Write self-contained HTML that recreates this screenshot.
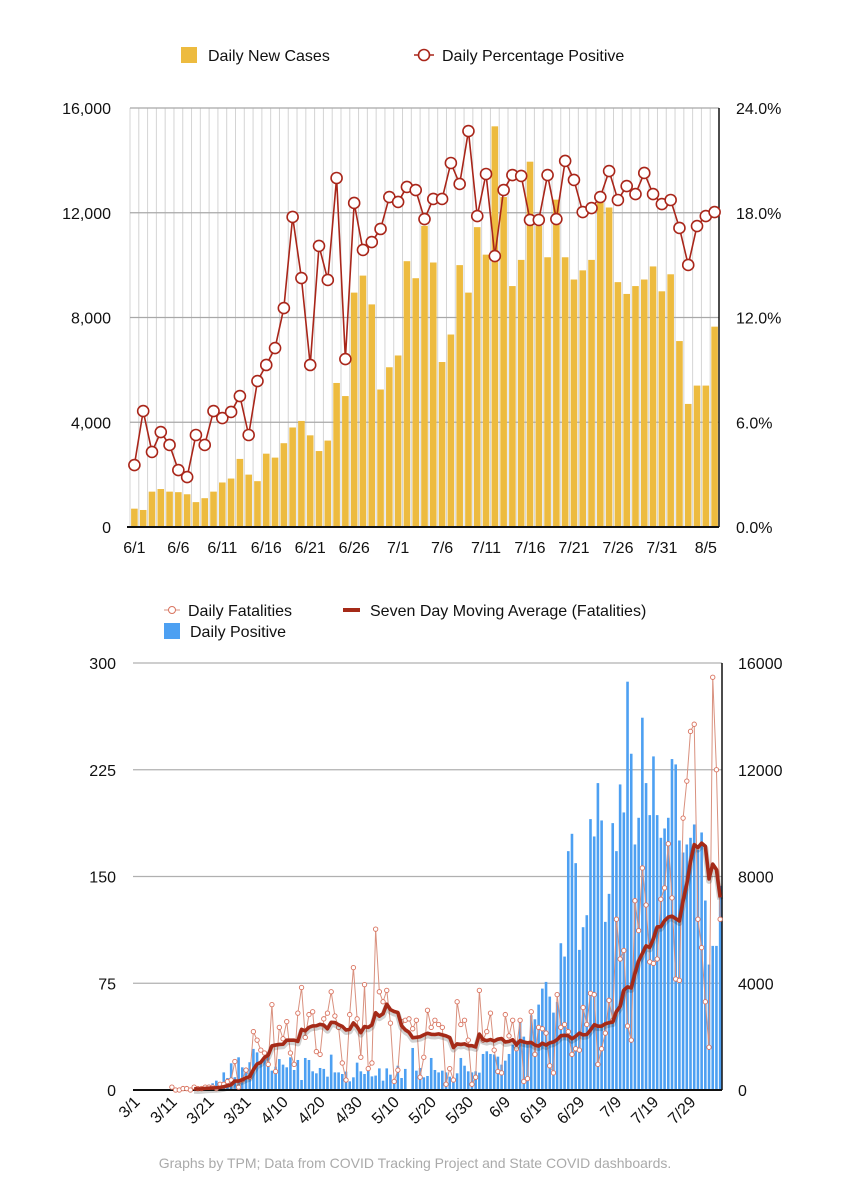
<!DOCTYPE html>
<html><head><meta charset="utf-8">
<style>
body{margin:0;background:#fff;width:849px;height:1200px;overflow:hidden;font-family:"Liberation Sans",Arial,sans-serif;}
svg{position:absolute;left:0;top:0}
text{font-family:"Liberation Sans",Arial,sans-serif;}
</style></head>
<body>
<svg id="c" width="849" height="1200"></svg>
<script>
// ---- Top chart data (6/1 .. 8/6) ----
const topDates = ["6/1","6/6","6/11","6/16","6/21","6/26","7/1","7/6","7/11","7/16","7/21","7/26","7/31","8/5"];
const newCases = [700,650,1350,1450,1350,1330,1250,950,1100,1350,1700,1850,2600,2000,1750,2800,2650,3200,3800,4050,3500,2900,3300,5500,5000,8950,9600,8500,5250,6100,6550,10150,9500,11500,10100,6300,7350,10000,8950,11450,10400,15300,12600,9200,10200,13950,11500,10300,12500,10300,9450,9800,10200,12400,12200,9350,8900,9200,9450,9950,9000,9650,7100,4700,5400,5400,7650];
const pctPositive = [3.55,6.64,4.30,5.44,4.70,3.26,2.86,5.27,4.70,6.64,6.24,6.59,7.50,5.27,8.36,9.28,10.25,12.54,17.76,14.26,9.28,16.10,14.15,19.99,9.62,18.56,15.87,16.32,17.07,18.90,18.62,19.48,19.30,17.64,18.79,18.79,20.85,19.65,22.68,17.81,20.22,15.52,19.30,20.16,20.11,17.59,17.59,20.16,17.64,20.97,19.88,18.04,18.27,18.90,20.39,18.73,19.53,19.07,20.28,19.07,18.50,18.73,17.13,15.01,17.24,17.81,18.04];
const topLeftTicks = [0,4000,8000,12000,16000];
const topLeftLabels = ["0","4,000","8,000","12,000","16,000"];
const topRightLabels = ["0.0%","6.0%","12.0%","18.0%","24.0%"];

// ---- Bottom chart data (3/1 .. 8/6) ----
const botDates = ["3/1","3/11","3/21","3/31","4/10","4/20","4/30","5/10","5/20","5/30","6/9","6/19","6/29","7/9","7/19","7/29"];
const dailyPositiveEarly = [0,0,0,0,0,0,0,0,0,0,0,0,0,0,0,0,0,
 0,100,150,200,250,350,300,
 660,450,1000,480,1225,850,700,1040,1540,1410,1040,1160,1410,725,875,1160,950,850,1225,750,1125,375,1200,1125,700,625,825,790,500,1325,660,660,600,690,325,475,1025,700,600,790,510,540,810,350,810,575,350,910,450,790,0,1575,725,825,475,525,1200,750,
 660,725,660,500,350,625,1200,910,700,660];
const fatalitiesEarly = [null,null,null,null,null,null,null,null,null,null,
 2,0,0,1,1,0,2,1,1,2,2,2,1,4,4,6,7,20,2,7,14,9,41,35,28,26,18,60,13,44,36,48,26,18,54,72,37,53,55,27,25,50,54,69,52,44,19,7,53,86,50,23,74,15,19,113,69,62,70,47,6,14,48,49,50,43,49,9,23,56,44,49,46];
const fatalitiesLate = [44,4,15,7,62,46,49,35,4,9,70,35,41,54,28,13,12,53,38,49,29,49,6,8,55,25,44,43,40,17,12,67,44,46,41,25,29,28,58,46,68,67,18,29,40,63,49,120,92,98,45,35,133,112,156,130,90,89,92,134,142,173,135,78,77,191,217,252,257,120,100,62,30,290,225,120];
const botLeftTicks = [0,75,150,225,300];
const botRightLabels = ["0","4000","8000","12000","16000"];

const NS="http://www.w3.org/2000/svg";
const svg=document.getElementById('c');
function mk(tag,attrs,parent){const e=document.createElementNS(NS,tag);for(const k in attrs)e.setAttribute(k,attrs[k]);(parent||svg).appendChild(e);return e;}
function txt(s,attrs,parent){const e=mk('text',attrs,parent);e.textContent=s;return e;}

// ================= TOP CHART =================
const T={x0:130,x1:719,y0:527,y1:108};
const nT=newCases.length;
const slotT=(T.x1-T.x0)/nT;
const xT=i=>T.x0+slotT*(i+0.5);
const yTc=v=>T.y0-(v/16000)*(T.y0-T.y1);
const yTp=v=>T.y0-(v/24)*(T.y0-T.y1);

const gT=mk('g',{});


for(let i=0;i<=nT;i++){
  const x=T.x0+slotT*i;
  const l=mk('line',{x1:x,x2:x,y1:T.y1,y2:T.y0,stroke:'#d4d4d4','stroke-width':1},gT);
  
  
}
topLeftTicks.forEach((v,i)=>{
  const y=yTc(v);
  if(i>0){const l=mk('line',{x1:T.x0,x2:T.x1,y1:y,y2:y,stroke:'#a8a8a8','stroke-width':1.3},gT);
  
  }
  const a=txt(topLeftLabels[i],{x:111,y:y+6,'text-anchor':'end','font-size':16,fill:'#111'},gT);
  
  
  const b=txt(topRightLabels[i],{x:736,y:y+6,'font-size':16,fill:'#111'},gT);
  
  
});
newCases.forEach((v,i)=>{
  const r=mk('rect',{x:xT(i)-3.3,y:yTc(v),width:6.6,height:T.y0-yTc(v),fill:'#EDBB3F'},gT);
  
  
});
const baseT=mk('line',{x1:T.x0-3,x2:T.x1,y1:T.y0,y2:T.y0,stroke:'#111','stroke-width':2},gT);


const rbT=mk('line',{x1:T.x1,x2:T.x1,y1:T.y1,y2:T.y0,stroke:'#111','stroke-width':1.5},gT);


const pl=mk('polyline',{points:pctPositive.map((v,i)=>xT(i)+','+yTp(v)).join(' '),fill:'none',stroke:'#A9261A','stroke-width':1.6},gT);


pctPositive.forEach((v,i)=>{
  const c=mk('circle',{cx:xT(i),cy:yTp(v),r:5.5,fill:'#fff',stroke:'#A9261A','stroke-width':1.6},gT);
  
  
});
topDates.forEach((d,k)=>{
  const t=txt(d,{x:xT(k*5),y:553,'text-anchor':'middle','font-size':16,fill:'#111'},gT);
  
  
});
// top legend
const lgT=mk('g',{});


const ls1=mk('rect',{x:181,y:47,width:16,height:16,fill:'#EDBB3F'},lgT);


const lt1=txt('Daily New Cases',{x:208,y:61,'font-size':16,fill:'#111'},lgT);


const ll2=mk('line',{x1:414,x2:434,y1:55,y2:55,stroke:'#A9261A','stroke-width':1.6},lgT);


const lc2=mk('circle',{cx:424,cy:55,r:5.5,fill:'#fff',stroke:'#A9261A','stroke-width':1.6},lgT);


const lt2=txt('Daily Percentage Positive',{x:442,y:61,'font-size':16,fill:'#111'},lgT);



// ================= BOTTOM CHART =================
const dailyPositive=dailyPositiveEarly.concat(newCases);
const fatalities=fatalitiesEarly.concat(fatalitiesLate);
const B={x0:133,x1:722,y0:1090,y1:663};
const nB=dailyPositive.length;
const slotB=(B.x1-B.x0)/nB;
const xB=i=>B.x0+slotB*(i+0.5);
const yBf=v=>B.y0-(v/300)*(B.y0-B.y1);
const yBp=v=>B.y0-(v/16000)*(B.y0-B.y1);

const gB=mk('g',{});


botLeftTicks.forEach((v,i)=>{
  const y=yBf(v);
  if(i>0){const l=mk('line',{x1:B.x0,x2:B.x1,y1:y,y2:y,stroke:'#b0b0b0','stroke-width':1.3},gB);
  
  }
  const a=txt(String(v),{x:116,y:y+6,'text-anchor':'end','font-size':16,fill:'#111'},gB);
  
  
  const b=txt(botRightLabels[i],{x:738,y:y+6,'font-size':16,fill:'#111'},gB);
  
  
});
dailyPositive.forEach((v,i)=>{
  if(v<=0)return;
  const r=mk('rect',{x:xB(i)-1.3,y:yBp(v),width:2.6,height:B.y0-yBp(v),fill:'#4DA0F2'},gB);
  
  
});
const baseB=mk('line',{x1:B.x0,x2:B.x1,y1:B.y0,y2:B.y0,stroke:'#111','stroke-width':2},gB);


const rbB=mk('line',{x1:B.x1,x2:B.x1,y1:B.y1,y2:B.y0,stroke:'#111','stroke-width':1.5},gB);


// fatalities line
const fpts=[];fatalities.forEach((v,i)=>{if(v!==null)fpts.push(xB(i)+','+yBf(v));});
const fl=mk('polyline',{points:fpts.join(' '),fill:'none',stroke:'#D9917F','stroke-width':1},gB);


fatalities.forEach((v,i)=>{
  if(v===null)return;
  const c=mk('circle',{cx:xB(i),cy:yBf(v),r:2.2,fill:'#fff',stroke:'#D9735F','stroke-width':0.9},gB);
  
  
});
// 7-day moving average derived from fatalities
const mpts=[];
for(let i=16;i<fatalities.length;i++){
  let s=0,c=0;for(let k=i-6;k<=i;k++){if(fatalities[k]!==null){s+=fatalities[k];c++;}}
  mpts.push(xB(i)+','+yBf(c?s/7:0));
}
const msh=mk('polyline',{points:mpts.join(' '),fill:'none',stroke:'rgba(0,0,0,0.18)','stroke-width':6,transform:'translate(0,2)','stroke-linejoin':'round'},gB);


const ml=mk('polyline',{points:mpts.join(' '),fill:'none',stroke:'#A52A18','stroke-width':3.6,'stroke-linejoin':'round'},gB);


botDates.forEach((d,k)=>{
  const x=xB(k*10)+6, y=1103;
  const t=txt(d,{x:x,y:y,'text-anchor':'end','font-size':16,fill:'#111',transform:`rotate(-45 ${x} ${y})`},gB);
  
  
});
// bottom legend
const lgB=mk('g',{});


const bl1=mk('line',{x1:164,x2:180,y1:610,y2:610,stroke:'#D9917F','stroke-width':1},lgB);


const bc1=mk('circle',{cx:172,cy:610,r:3.5,fill:'#fff',stroke:'#D9735F','stroke-width':1},lgB);


const bt1=txt('Daily Fatalities',{x:188,y:616,'font-size':16,fill:'#111'},lgB);


const bl2=mk('line',{x1:343,x2:360,y1:610,y2:610,stroke:'#A52A18','stroke-width':4},lgB);


const bt2=txt('Seven Day Moving Average (Fatalities)',{x:370,y:616,'font-size':16,fill:'#111'},lgB);


const bs3=mk('rect',{x:164,y:623,width:16,height:16,fill:'#4DA0F2'},lgB);


const bt3=txt('Daily Positive',{x:190,y:637,'font-size':16,fill:'#111'},lgB);



const ft=txt('Graphs by TPM; Data from COVID Tracking Project and State COVID dashboards.',{x:415,y:1168,'text-anchor':'middle','font-size':14,fill:'#aaa'});


</script>
</body></html>
